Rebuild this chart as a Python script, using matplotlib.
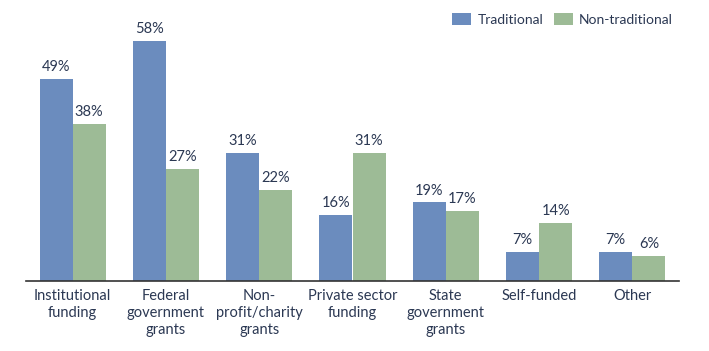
import matplotlib.pyplot as plt
import numpy as np

categories = ["Institutional\nfunding", "Federal\ngovernment\ngrants", "Non-\nprofit/charity\ngrants",
              "Private sector\nfunding", "State\ngovernment\ngrants", "Self-funded", "Other"]
traditional = [49, 58, 31, 16, 19, 7, 7]
non_traditional = [38, 27, 22, 31, 17, 14, 6]

blue = "#6b8cbe"
green = "#9dbb96"
txt = "#2b3853"

plt.rcParams["font.family"] = ["Lato", "DejaVu Sans"]

fig = plt.figure(figsize=(7.09, 3.51), dpi=100)
ax = fig.add_axes([26 / 709, 70 / 351, 653 / 709, 281 / 351])

x = np.arange(len(categories))
w = 0.355
b1 = ax.bar(x - w / 2, traditional, w, color=blue, label="Traditional")
b2 = ax.bar(x + w / 2, non_traditional, w, color=green, label="Non-traditional")

for bars, vals in [(b1, traditional), (b2, non_traditional)]:
    for r, v in zip(bars, vals):
        ax.text(r.get_x() + r.get_width() / 2, v + 1.2, f"{v}%", ha="center", va="bottom",
                fontsize=10.5, color=txt)

ax.set_xlim(-0.5, 6.5)
ax.set_ylim(0, 68)
ax.set_xticks(x)
ax.set_xticklabels(categories, fontsize=10.5, color=txt, linespacing=1.25, va="top")
ax.tick_params(axis="x", length=0, pad=6)
ax.set_yticks([])
for s in ["top", "right", "left"]:
    ax.spines[s].set_visible(False)
ax.spines["bottom"].set_color("#333333")
ax.spines["bottom"].set_linewidth(1.2)

ax.legend(loc="upper right", bbox_to_anchor=(1.01, 1.0), ncol=2, frameon=False, fontsize=10,
          labelcolor=txt, handlelength=1.35, handleheight=1.05, columnspacing=0.8, handletextpad=0.45)

fig.savefig("out.png", dpi=100)
